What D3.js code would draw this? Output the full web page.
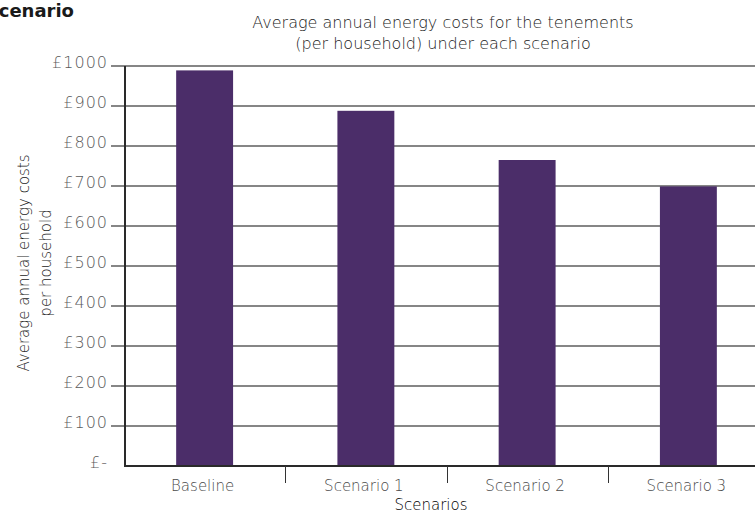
<!DOCTYPE html>
<html>
<head>
<meta charset="utf-8">
<script src="https://cdn.jsdelivr.net/npm/d3@7"></script>
<style>
  html, body { margin: 0; padding: 0; background: #fff; }
  svg { display: block; }
  text { font-family: "DejaVu Sans", "Open Sans", sans-serif; }
</style>
</head>
<body>
<svg id="chart" width="755" height="515"></svg>
<script>
// Chart data
const scenarios = ["Baseline", "Scenario 1", "Scenario 2", "Scenario 3"];
const annualCost = [989, 888, 765, 699];
const costTicks = [0, 100, 200, 300, 400, 500, 600, 700, 800, 900, 1000];
const titleLines = ["Average annual energy costs for the tenements", "(per household) under each scenario"];
const yTitleLines = ["Average annual energy costs", "per household"];
const xTitle = "Scenarios";
const headingFragment = "cenario";

const svg = d3.select("#chart");

const plotLeft = 124, plotRight = 769, plotTop = 66, plotBottom = 466;

const x = d3.scaleBand().domain(scenarios).range([plotLeft, plotRight]).padding(0);
const y = d3.scaleLinear().domain([0, 1000]).range([plotBottom, plotTop]);
const barWidth = x.bandwidth() * 0.353;

const fmt = v => v === 0 ? "£-" : "£" + v;

// heading fragment in the top-left corner
svg.append("text")
  .attr("x", 74).attr("y", 17)
  .attr("text-anchor", "end")
  .attr("font-weight", "bold")
  .attr("font-size", 18)
  .attr("fill", "#1a1a1a")
  .text(headingFragment);

// chart title
svg.append("g").selectAll("text").data(titleLines).join("text")
  .attr("x", 443)
  .attr("y", (d, i) => 28 + i * 21)
  .attr("text-anchor", "middle")
  .attr("font-size", 16)
  .attr("font-weight", 200)
  .attr("fill", "#222")
  .text(d => d);

// horizontal gridlines with short outer ticks
svg.append("g").selectAll("line").data(costTicks.filter(v => v > 0)).join("line")
  .attr("x1", 111).attr("x2", 755)
  .attr("y1", d => y(d)).attr("y2", d => y(d))
  .attr("stroke", "#5e5e5e")
  .attr("stroke-width", 1.6);

// y tick labels
svg.append("g").selectAll("text").data(costTicks).join("text")
  .attr("x", 108)
  .attr("y", d => y(d) - 4)
  .attr("dy", "0.35em")
  .attr("text-anchor", "end")
  .attr("font-size", 16)
  .attr("letter-spacing", 1)
  .attr("font-weight", 200)
  .attr("fill", "#595959")
  .text(fmt);

// bars
svg.append("g").selectAll("rect").data(scenarios).join("rect")
  .attr("x", d => x(d) + x.bandwidth() / 2 - barWidth / 2)
  .attr("width", barWidth)
  .attr("y", (d, i) => y(annualCost[i]))
  .attr("height", (d, i) => y(0) - y(annualCost[i]))
  .attr("fill", "#4b2d69");

// axis lines
svg.append("line")
  .attr("x1", plotLeft + 1).attr("x2", plotLeft + 1)
  .attr("y1", plotTop).attr("y2", plotBottom)
  .attr("stroke", "#2a2a2a").attr("stroke-width", 2);
svg.append("line")
  .attr("x1", plotLeft).attr("x2", 755)
  .attr("y1", plotBottom).attr("y2", plotBottom)
  .attr("stroke", "#2a2a2a").attr("stroke-width", 2);

// category separator ticks
svg.append("g").selectAll("line").data(scenarios.slice(1)).join("line")
  .attr("x1", d => Math.round(x(d)) + 0.5).attr("x2", d => Math.round(x(d)) + 0.5)
  .attr("y1", plotBottom).attr("y2", plotBottom + 17)
  .attr("stroke", "#333").attr("stroke-width", 1);

// category labels
svg.append("g").selectAll("text").data(scenarios).join("text")
  .attr("x", d => x(d) + x.bandwidth() / 2 - 2)
  .attr("y", 491)
  .attr("text-anchor", "middle")
  .attr("font-size", 15)
  .attr("font-weight", 200)
  .attr("fill", "#4a4a4a")
  .text(d => d);

// x-axis title
svg.append("text")
  .attr("x", 431).attr("y", 510)
  .attr("text-anchor", "middle")
  .attr("font-size", 15)
  .attr("font-weight", 200)
  .attr("fill", "#000")
  .text(xTitle);

// y-axis title
svg.append("g").attr("transform", "translate(0,263) rotate(-90)")
  .selectAll("text").data(yTitleLines).join("text")
  .attr("x", 0)
  .attr("y", (d, i) => 29 + i * 22)
  .attr("text-anchor", "middle")
  .attr("font-size", 15)
  .attr("font-weight", 200)
  .attr("fill", "#1a1a1a")
  .text(d => d);
</script>
</body>
</html>
